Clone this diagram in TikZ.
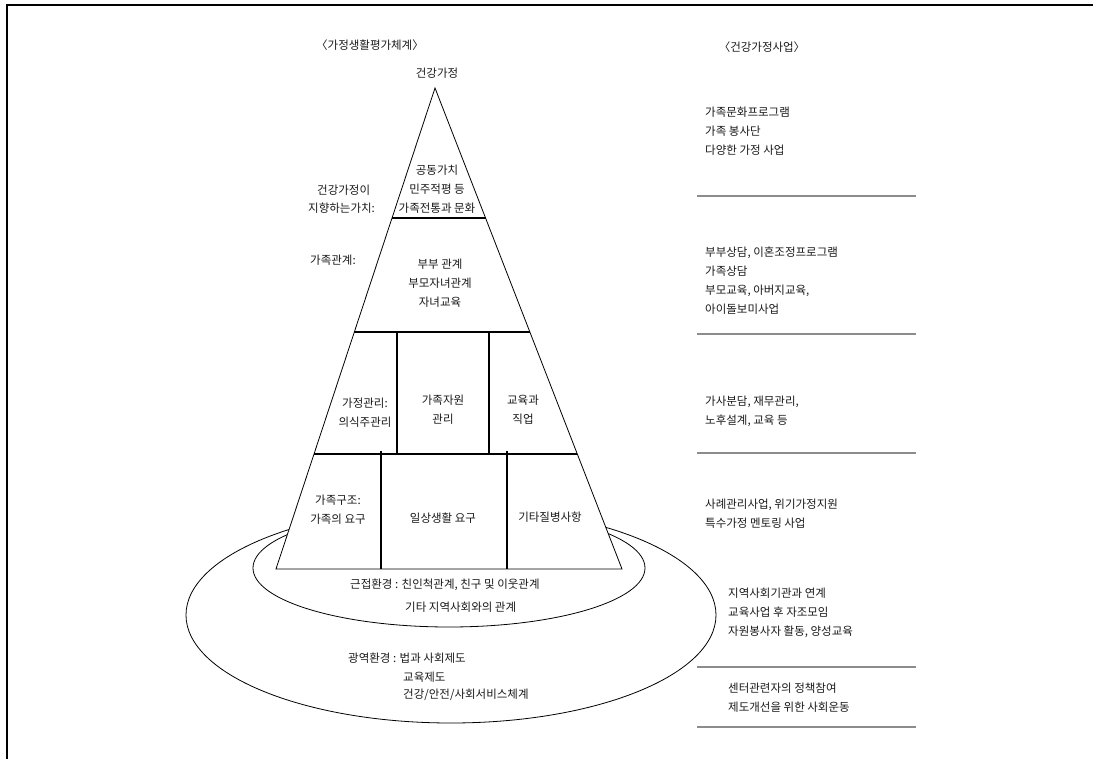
\documentclass[tikz,border=0pt]{standalone}
\usepackage{fontspec}
\setmainfont{Noto Sans CJK KR}
\usetikzlibrary{calc}
\begin{document}
\begin{tikzpicture}[x=1pt,y=-1pt,
  lbl/.style={font=\fontsize{11.5}{19}\selectfont, inner sep=0pt, text=black!90, align=center},
  lbll/.style={lbl, align=left, anchor=west},
  sepline/.style={draw=black!45, line width=1.2pt},
  thin/.style={line width=0.8pt},
  band/.style={line width=1.5pt},
  wall/.style={line width=1.8pt},
  wall2/.style={line width=1.2pt}]
\useasboundingbox (0,0) rectangle (1093,759);
% frame
\draw[line width=2pt] (6.5,759) -- (6.5,5.5) -- (1093,5.5);
% environment ellipses
\draw[thin] (451,615) ellipse [x radius=265, y radius=108];
\draw[thin] (449,568) ellipse [x radius=196, y radius=59];
% triangle
\coordinate (apex) at (435,88);
\coordinate (bl) at (276,569);
\coordinate (br) at (622,569);
\filldraw[fill=white, thin] (apex) -- (bl) -- (br) -- cycle;
\coordinate (l1) at ($(apex)!0.2703!(bl)$);
\coordinate (r1) at ($(apex)!0.2703!(br)$);
\coordinate (l2) at ($(apex)!0.5073!(bl)$);
\coordinate (r2) at ($(apex)!0.5073!(br)$);
\coordinate (l3) at ($(apex)!0.7609!(bl)$);
\coordinate (r3) at ($(apex)!0.7609!(br)$);
\draw[band] (l1) -- (r1);
\draw[wall] (l2) -- (r2);
\draw[band] (l3) -- (r3);
\draw[wall] (397,332) -- (397,454);
\draw[wall] (489,332) -- (489,454);
\draw[wall2] (381,451) -- (381,569);
\draw[wall2] (507,451) -- (507,569);
% titles
\node[lbl] (t1) at (370,45) {〈가정생활평가체계〉};
\node[lbl] (t2) at (762,47) {〈건강가정사업〉};
\node[lbl] (top) at (437,73) {건강가정};
% pyramid texts
\node[lbl] (v1) at (437,189) {공동가치\\민주적평 등\\가족전통과 문화};
\node[lbll] (v2) at (317,190) {건강가정이};
\node[lbll] (v3) at (308,208) {지향하는가치:};
\node[lbll] (r0) at (310,260) {가족관계:};
\node[lbl] (r1t) at (440,283) {부부 관계\\부모자녀관계\\자녀교육};
\node[lbl] (m1) at (365,413) {가정관리:\\의식주관리};
\node[lbl] (m2) at (443,410) {가족자원\\관리};
\node[lbl] (m3) at (523,410) {교육과\\직업};
\node[lbl] (s1) at (338,510) {가족구조:\\가족의 요구};
\node[lbl] (s2) at (443,518) {일상생활 요구};
\node[lbl] (s3) at (550,517) {기타질병사항};
% environment texts
\node[lbll] (e1) at (350,585) {근접환경 : 친인척관계, 친구 및 이웃관계};
\node[lbll] (e2) at (405,607) {기타 지역사회와의 관계};
\node[lbll] (g1) at (348,658) {광역환경 : 법과 사회제도};
\node[lbll] (g2) at (403,677) {교육제도};
\node[lbll] (g3) at (403,695) {건강/안전/사회서비스체계};
% right column
\node[lbll] (p1) at (705,131) {가족문화프로그램\\가족 봉사단\\다양한 가정 사업};
\node[lbll] (p2) at (705,280.5) {부부상담, 이혼조정프로그램\\가족상담\\부모교육, 아버지교육,\\아이돌보미사업};
\node[lbll] (p3) at (705,411) {가사분담, 재무관리,\\노후설계, 교육 등};
\node[lbll] (p4) at (705,514) {사례관리사업, 위기가정지원\\특수가정 멘토링 사업};
\node[lbll] (p5) at (728,612.5) {지역사회기관과 연계\\교육사업 후 자조모임\\자원봉사자 활동, 양성교육};
\node[lbll] (p6) at (728,697.5) {센터관련자의 정책참여\\제도개선을 위한 사회운동};
\foreach \yy in {196,334,453,667,727}
  \draw[sepline] (697,\yy) -- (916,\yy);
\end{tikzpicture}
\end{document}
